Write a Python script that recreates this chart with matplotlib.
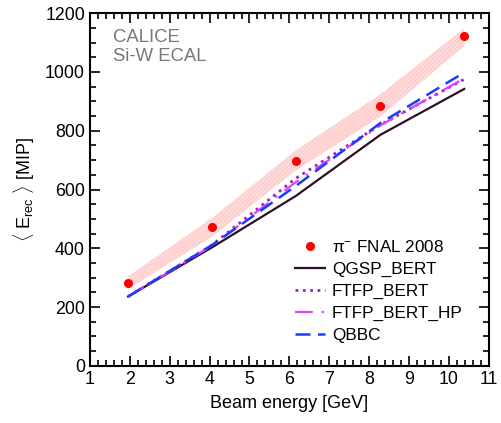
import numpy as np
import matplotlib
matplotlib.use("Agg")
from matplotlib import pyplot as plt
from matplotlib.ticker import MultipleLocator

plt.rcParams['font.family'] = ['Liberation Sans', 'DejaVu Sans']
plt.rcParams['mathtext.fontset'] = 'custom'
plt.rcParams['mathtext.rm'] = 'Liberation Sans'
plt.rcParams['mathtext.it'] = 'Liberation Sans:italic'
plt.rcParams['hatch.linewidth'] = 0.6

# datos
e_datos = [1.96, 4.07, 6.16, 8.28, 10.38]
y_datos = [281, 472, 698, 884, 1122]
banda_lo = [262, 440, 665, 848, 1088]
banda_hi = [305, 504, 733, 924, 1148]

e_sim = [1.96, 4.07, 6.16, 8.28, 10.38]
qgsp_bert = [236, 404, 578, 786, 942]
ftfp_bert = [236, 412, 638, 820, 975]
ftfp_bert_hp = [236, 410, 625, 818, 978]
qbbc = [236, 412, 612, 826, 998]

fig = plt.figure(figsize=(5.02, 4.23), dpi=100)
ax = fig.add_axes([0.179, 0.135, 0.795, 0.834])

ax.fill_between(e_datos, banda_lo, banda_hi, facecolor='#ffdcdc', edgecolor='#ffc2c2',
                hatch='////////', linewidth=0, zorder=1)
ax.plot(e_datos, y_datos, 'o', color='#ff0000', ms=5.5, label='π$^{-}$ FNAL 2008', zorder=5)
ax.plot(e_sim, qgsp_bert, '-', color='#2d0f2d', lw=1.6, label='QGSP_BERT', zorder=3)
ax.plot(e_sim, ftfp_bert, ':', color='#a020c0', lw=2, label='FTFP_BERT', zorder=3)
ax.plot(e_sim, ftfp_bert_hp, '-.', color='#e040ff', lw=1.6, dashes=(8, 4, 1, 4),
        label='FTFP_BERT_HP', zorder=3)
ax.plot(e_sim, qbbc, '--', color='#1a3cff', lw=1.8, dashes=(6, 3), label='QBBC', zorder=4)

ax.set_xlim(1, 11)
ax.set_ylim(0, 1200)
ax.xaxis.set_major_locator(MultipleLocator(1))
ax.xaxis.set_minor_locator(MultipleLocator(0.2))
ax.yaxis.set_major_locator(MultipleLocator(200))
ax.yaxis.set_minor_locator(MultipleLocator(50))
ax.tick_params(which='both', direction='in', top=True, right=True, labelsize=12.8, width=1.2)
ax.tick_params(which='major', length=7)
ax.tick_params(which='minor', length=4)
for s in ax.spines.values():
    s.set_linewidth(1.5)

ax.set_xlabel('Beam energy [GeV]', fontsize=13, labelpad=5)
ax.set_ylabel(r'$\langle$ E$_{\mathrm{rec}}$ $\rangle$ [MIP]', fontsize=13, labelpad=6)

ax.text(0.058, 0.955, 'CALICE\nSi-W ECAL', transform=ax.transAxes, color='#777777',
        fontsize=13.3, va='top', ha='left', linespacing=1.15)

ax.legend(loc='lower left', frameon=False, fontsize=12.3, handlelength=1.75,
          handletextpad=0.4, borderpad=0, borderaxespad=0,
          bbox_to_anchor=(0.515, 0.065), labelspacing=0.4)

fig.savefig('out.png', dpi=100)
